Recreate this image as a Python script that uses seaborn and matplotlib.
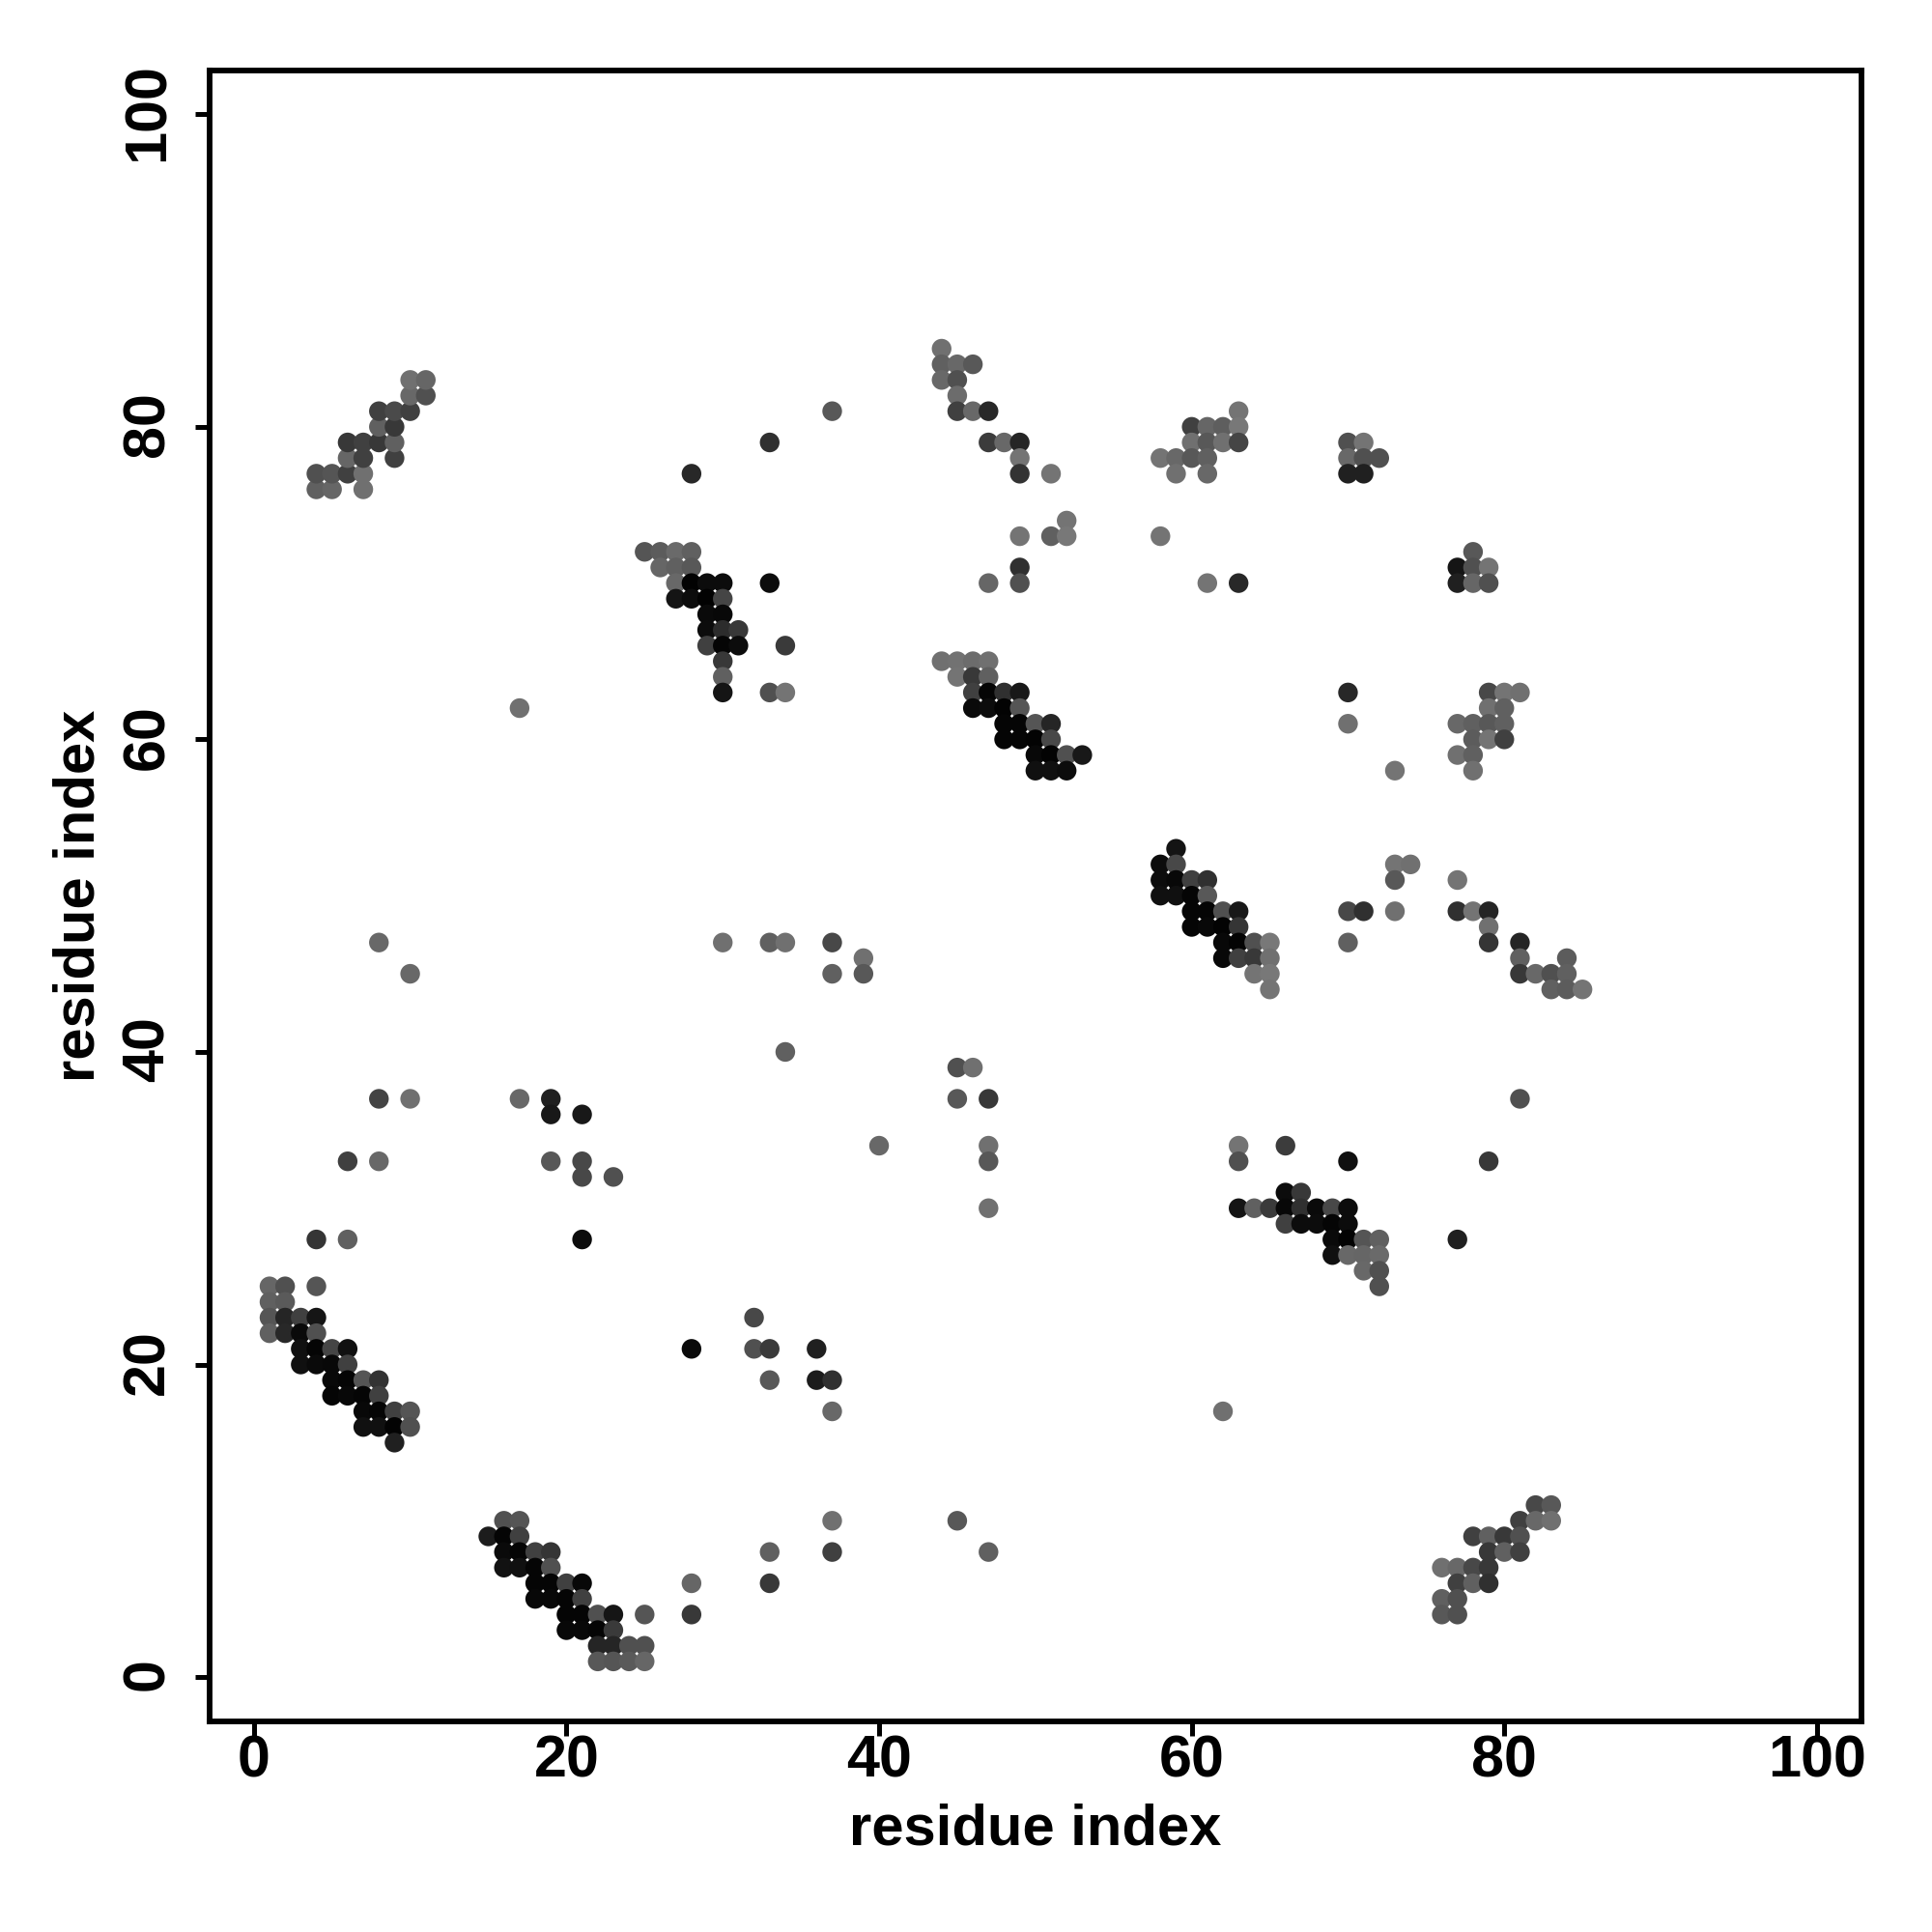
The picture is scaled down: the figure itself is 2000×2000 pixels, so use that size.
import pandas as pd
import matplotlib.pyplot as plt
import matplotlib.transforms as mtrans
import seaborn as sns

# contact map values
# lower left strand
x_a = [4, 6, 21,  1, 2, 4,  1, 2,  1, 2, 3, 4,  1, 2, 3, 4,  3, 4, 5, 6, 28,  3, 4, 5, 6,
       5, 6, 7, 8,  5, 6, 7, 8,  7, 8, 9, 10,  7, 8, 9, 10,  9]
y_a = [28, 28, 28,  25, 25, 25,  24, 24,  23, 23, 23, 23,  22, 22, 22, 22,  21, 21, 21, 21, 21,  20, 20, 20, 20,
       19, 19, 19, 19,  18, 18, 18, 18,  17, 17, 17, 17,  16, 16, 16, 16,  15]
gray_a = [0x35, 0x60, 0x0c,  0x66, 0x50, 0x55,  0x60, 0x5a,  0x55, 0x25, 0x40, 0x15,  0x60, 0x28, 0x0a, 0x50,
          0x10, 0x05, 0x45, 0x10, 0x0a,  0x10, 0x0a, 0x08, 0x40,
          0x08, 0x05, 0x55, 0x33,  0x05, 0x08, 0x05, 0x40,  0x08, 0x05, 0x40, 0x55,  0x10, 0x10, 0x03, 0x50,  0x20]

# bottom strand
x_b = [16, 17,  15, 16, 17,  16, 17, 18, 19,  16, 17, 18, 19,  18, 19, 20, 21, 28,  18, 19, 20, 21,
       20, 21, 22, 23, 25, 28,  20, 21, 22, 23,  22, 23, 24, 25,  22, 23, 24, 25]
y_b = [10, 10,  9, 9, 9,  8, 8, 8, 8,  7, 7, 7, 7,  6, 6, 6, 6, 6,  5, 5, 5, 5,
       4, 4, 4, 4, 4, 4,  3, 3, 3, 3,  2, 2, 2, 2,  1, 1, 1, 1]
gray_b = [0x50, 0x55,  0x1c, 0x05, 0x40,  0x0a, 0x05, 0x40, 0x35,  0x12, 0x10, 0x05, 0x50,
          0x05, 0x05, 0x40, 0x08, 0x66,  0x08, 0x08, 0x05, 0x40,
          0x05, 0x05, 0x50, 0x15, 0x55, 0x38,  0x08, 0x08, 0x05, 0x3a,  0x25, 0x25, 0x50, 0x50,  0x58, 0x55, 0x5a, 0x66]

# upper left strand
x_c = [4, 5, 7,  4, 5, 6, 7,  6, 7, 9,  6, 7, 8, 9,  8, 9,  8, 9, 10,  10, 11,  10, 11]
y_c = [76, 76, 76,  77, 77, 77, 77,  78, 78, 78,  79, 79, 79, 79,  80, 80,  81, 81, 81,  82, 82,  83, 83]
gray_c = [0x60, 0x66, 0x70,  0x50, 0x55, 0x40, 0x70,  0x66, 0x40, 0x40,  0x38, 0x40, 0x38, 0x60,  0x60, 0x38,
          0x40, 0x4a, 0x40,  0x68, 0x50,  0x70, 0x66]

# residues 25-34 against 63-72
x_d = [25, 26, 27, 28,  26, 27, 28,  27, 28, 29, 30, 33,  27, 28, 29, 30,  29, 30,  29, 30, 31,
       29, 30, 31, 34,  30,  30,  30, 33, 34]
y_d = [72, 72, 72, 72,  71, 71, 71,  70, 70, 70, 70, 70,  69, 69, 69, 69,  68, 68,  67, 67, 67,
       66, 66, 66, 66,  65,  64,  63, 63, 63]
gray_d = [0x55, 0x5c, 0x6a, 0x60,  0x66, 0x60, 0x58,  0x68, 0x02, 0x0c, 0x0c, 0x0c,  0x14, 0x0c, 0x02, 0x45,
          0x0a, 0x08,  0x0c, 0x2c, 0x38,  0x40, 0x05, 0x0c, 0x3a,  0x38,  0x60,  0x15, 0x50, 0x74]

# residues 44-52 against 70-85
x_e = [44,  44, 45, 46,  44, 45,  45,  45, 46, 47,  47, 48, 49,  49,  49, 51,  52,  49, 51, 52,  49,  47, 49]
y_e = [85,  84, 84, 84,  83, 83,  82,  81, 81, 81,  79, 79, 79,  78,  77, 77,  74,  73, 73, 73,  71,  70, 70]
gray_e = [0x70,  0x60, 0x68, 0x58,  0x68, 0x50,  0x6c,  0x40, 0x68, 0x28,  0x3c, 0x68, 0x25,  0x74,  0x33, 0x74,
          0x74,  0x74, 0x60, 0x78,  0x30,  0x66, 0x50]

# residues 44-53 against 58-65
x_f = [44, 45, 46, 47,  45, 46, 47,  46, 47, 48, 49,  46, 47, 48, 49,  48, 49, 50, 51,  48, 49, 50, 51,
       50, 51, 52, 53,  50, 51, 52]
y_f = [65, 65, 65, 65,  64, 64, 64,  63, 63, 63, 63,  62, 62, 62, 62,  61, 61, 61, 61,  60, 60, 60, 60,
       59, 59, 59, 59,  58, 58, 58]
gray_f = [0x70, 0x72, 0x6c, 0x70,  0x74, 0x38, 0x60,  0x40, 0x05, 0x30, 0x18,  0x0a, 0x0c, 0x03, 0x55,
          0x05, 0x05, 0x55, 0x25,  0x05, 0x05, 0x03, 0x48,  0x08, 0x03, 0x50, 0x18,  0x10, 0x10, 0x0c]

# residues 58-72 against 70-81
x_g = [63,  60, 61, 62, 63,  60, 61, 62, 63, 70, 71,  58, 59, 60, 61, 70, 71, 72,  59, 61, 70, 71,  58,  61, 63]
y_g = [81,  80, 80, 80, 80,  79, 79, 79, 79, 79, 79,  78, 78, 78, 78, 78, 78, 78,  77, 77, 77, 77,  73,  70, 70]
gray_g = [0x74,  0x40, 0x66, 0x5e, 0x78,  0x70, 0x58, 0x70, 0x45, 0x50, 0x74,
          0x74, 0x68, 0x58, 0x60, 0x68, 0x50, 0x50,  0x70, 0x68, 0x20, 0x20,  0x74,  0x74, 0x28]

# residues 77-81 against 58-72
x_h = [78,  77, 78, 79,  77, 78, 79,  79, 80, 81,  79, 80,  77, 78, 79, 80,  78, 79, 80,  77, 78,  78]
y_h = [72,  71, 71, 71,  70, 70, 70,  63, 63, 63,  62, 62,  61, 61, 61, 61,  60, 60, 60,  59, 59,  58]
gray_h = [0x58,  0x15, 0x50, 0x74,  0x20, 0x66, 0x50,  0x48, 0x74, 0x70,  0x70, 0x60,  0x68, 0x60, 0x58, 0x60,
          0x5c, 0x74, 0x40,  0x70, 0x60,  0x70]

# residues 58-65 against 44-53
x_i = [59,  58, 59,  58, 59, 60, 61,  58, 59, 60, 61,  60, 61, 62, 63,  60, 61, 62, 63,
       62, 63, 64, 65,  62, 63, 64, 65,  64, 65,  65]
y_i = [53,  52, 52,  51, 51, 51, 51,  50, 50, 50, 50,  49, 49, 49, 49,  48, 48, 48, 48,
       47, 47, 47, 47,  46, 46, 46, 46,  45, 45,  44]
gray_i = [0x14,  0x0c, 0x48,  0x0c, 0x08, 0x40, 0x30,  0x10, 0x10, 0x05, 0x58,  0x05, 0x05, 0x50, 0x18,
          0x05, 0x08, 0x03, 0x35,  0x08, 0x03, 0x50, 0x78,  0x08, 0x40, 0x38, 0x70,  0x74, 0x78,  0x74]

# residues 70-85 against 44-52
x_j = [73, 74,  73, 77,  70, 71, 73, 77, 78, 79,  79,  70, 79, 81,  81, 84,  81, 82, 83, 84,  83, 84, 85]
y_j = [52, 52,  51, 51,  49, 49, 49, 49, 49, 49,  48,  47, 47, 47,  46, 46,  45, 45, 45, 45,  44, 44, 44]
gray_j = [0x74, 0x70,  0x58, 0x74,  0x48, 0x30, 0x70, 0x30, 0x74, 0x25,  0x70,  0x60, 0x35, 0x25,  0x60, 0x5c,
          0x38, 0x68, 0x50, 0x60,  0x60, 0x5c, 0x74]

# residues 63-72 against 25-34
x_k = [63, 66,  63, 70,  66, 67,  63, 64, 65, 66, 67, 68, 69, 70,  66, 67, 68, 69, 70,
       69, 70, 71, 72,  69, 70, 71, 72,  71, 72,  72]
y_k = [34, 34,  33, 33,  31, 31,  30, 30, 30, 30, 30, 30, 30, 30,  29, 29, 29, 29, 29,
       28, 28, 28, 28,  27, 27, 27, 27,  26, 26,  25]
gray_k = [0x74, 0x3c,  0x50, 0x10,  0x0c, 0x38,  0x14, 0x60, 0x3a, 0x08, 0x30, 0x0a, 0x48, 0x0c,
          0x40, 0x0c, 0x0c, 0x05, 0x0c,  0x0a, 0x03, 0x55, 0x60,  0x10, 0x68, 0x66, 0x6a,  0x68, 0x50,  0x50]

# lower right strand
x_l = [82, 83,  81, 82, 83,  78, 79, 80, 81,  79, 80, 81,  76, 77, 78, 79,  77, 78, 79,  76, 77,  76, 77]
y_l = [11, 11,  10, 10, 10,  9, 9, 9, 9,  8, 8, 8,  7, 7, 7, 7,  6, 6, 6,  5, 5,  4, 4]
gray_l = [0x48, 0x58,  0x40, 0x68, 0x70,  0x40, 0x60, 0x38, 0x50,  0x38, 0x60, 0x40,
          0x70, 0x68, 0x48, 0x38,  0x40, 0x60, 0x30,  0x60, 0x50,  0x58, 0x50]

# isolated contacts
x_m = [8, 10, 8, 10, 6, 8, 17, 17, 19, 19, 21, 19, 21, 21, 23,
       28, 33, 37, 30, 33, 34, 37, 39, 37, 39, 34, 40,
       45, 46, 45, 47, 47, 47, 47, 32, 32, 33, 33, 36, 36, 37, 37,
       62, 37, 33, 37, 33, 45, 47, 77, 79, 81, 70, 70, 73]
y_m = [47, 45, 37, 37, 33, 33, 62, 37, 37, 36, 36, 33, 33, 32, 32,
       77, 79, 81, 47, 47, 47, 47, 46, 45, 45, 40, 34,
       39, 39, 37, 37, 34, 33, 30, 23, 21, 21, 19, 21, 19, 19, 17,
       17, 10, 8, 8, 6, 10, 8, 28, 33, 37, 63, 61, 58]
gray_m = [0x68, 0x68, 0x44, 0x70, 0x40, 0x68, 0x70, 0x68, 0x20, 0x18, 0x18, 0x58, 0x48, 0x48, 0x50,
          0x28, 0x30, 0x58, 0x70, 0x60, 0x70, 0x48, 0x70, 0x60, 0x58, 0x60, 0x68,
          0x50, 0x70, 0x58, 0x38, 0x70, 0x58, 0x70, 0x48, 0x50, 0x3a, 0x58, 0x20, 0x1c, 0x30, 0x68,
          0x70, 0x70, 0x60, 0x40, 0x38, 0x58, 0x60, 0x20, 0x38, 0x50, 0x28, 0x70, 0x74]

tick_values = [0, 20, 40, 60, 80, 100]
axis_label = 'residue index'

df = pd.DataFrame({
    'i': x_a + x_b + x_c + x_d + x_e + x_f + x_g + x_h + x_i + x_j + x_k + x_l + x_m,
    'j': y_a + y_b + y_c + y_d + y_e + y_f + y_g + y_h + y_i + y_j + y_k + y_l + y_m,
    'gray': gray_a + gray_b + gray_c + gray_d + gray_e + gray_f + gray_g + gray_h + gray_i + gray_j + gray_k + gray_l + gray_m,
})

sns.set_theme(style='white')
plt.rcParams['font.family'] = ['Liberation Sans', 'DejaVu Sans']
plt.rcParams['font.weight'] = 'bold'

fig = plt.figure(figsize=(20, 20), dpi=100)
ax = fig.add_axes([217 / 2000, 1 - 1782 / 2000, 1710 / 2000, 1709 / 2000])

sns.scatterplot(data=df, x='i', y='j', hue='gray', hue_norm=(0, 255), palette='gray',
                s=215, linewidth=0, legend=False, ax=ax, clip_on=False)

ax.set_xlim(-2.83, 102.85)
ax.set_ylim(-2.84, 102.8)
ax.set_xticks(tick_values)
ax.set_yticks(tick_values)
# the white style switches tick marks off, so turn them back on
ax.tick_params(axis='both', bottom=True, left=True, length=11, width=3.6, color='black',
               labelsize=44, labelcolor='black')
ax.tick_params(axis='x', pad=-1.5)
ax.tick_params(axis='y', labelrotation=90, pad=14)
# nudge the rotated labels up so they sit centred on their ticks
nudge = mtrans.ScaledTranslation(0, 2.5 / 100, fig.dpi_scale_trans)
for lab in ax.get_yticklabels():
    lab.set_va('center')
    lab.set_transform(lab.get_transform() + nudge)
for side in ax.spines.values():
    side.set_visible(True)
    side.set_color('black')
    side.set_linewidth(4.2)

ax.set_xlabel(axis_label, fontsize=43, fontweight='bold', color='black', labelpad=10)
ax.set_ylabel(axis_label, fontsize=43, fontweight='bold', color='black', labelpad=11.5)

fig.savefig('out.png', dpi=100)
